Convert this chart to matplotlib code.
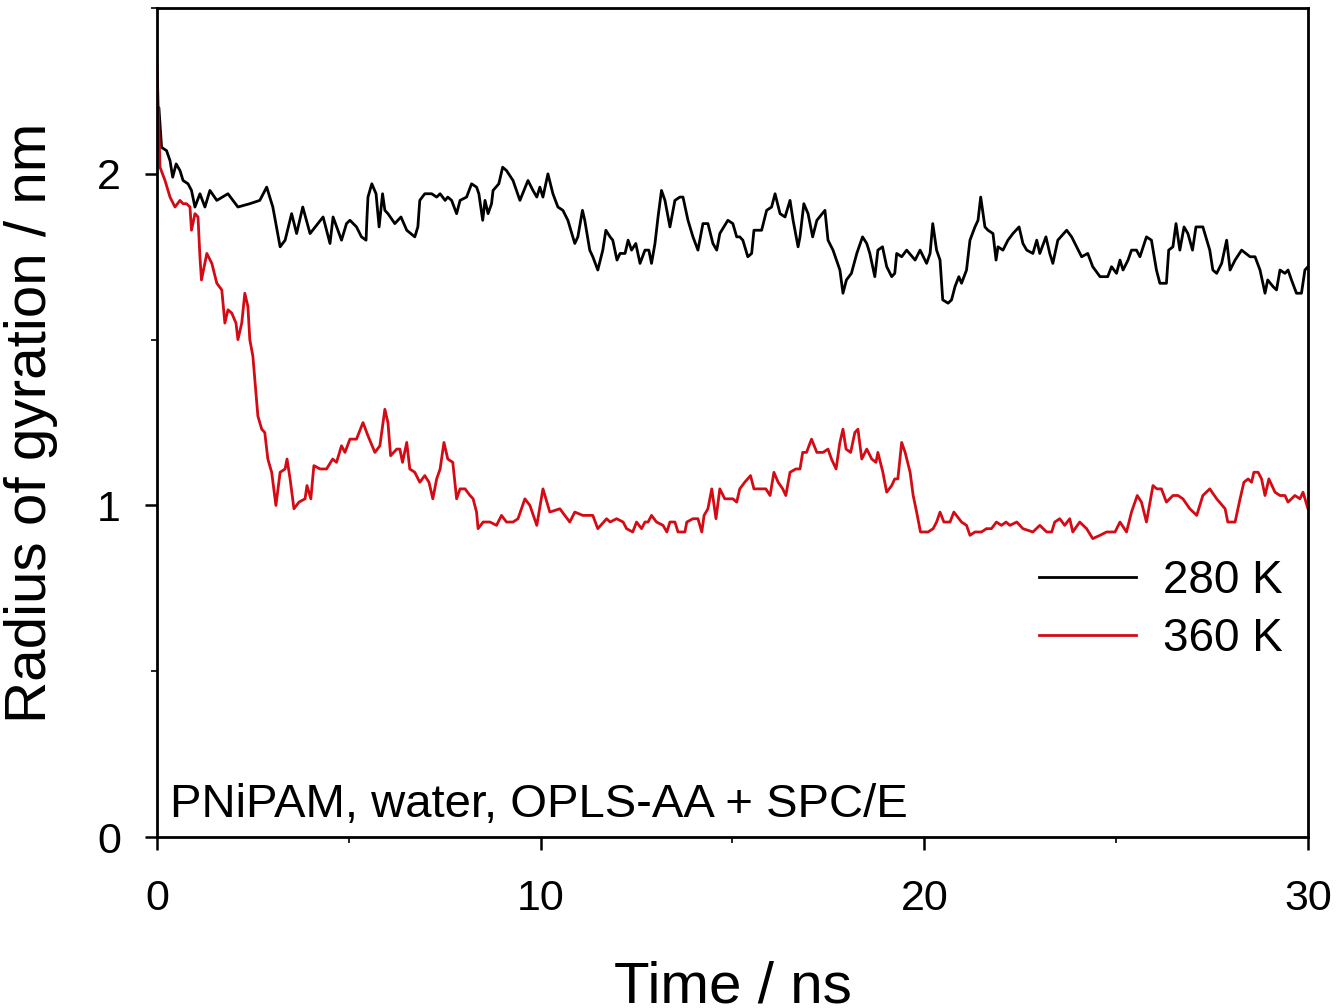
import matplotlib
matplotlib.use("Agg")
import matplotlib.pyplot as plt
from matplotlib.ticker import MultipleLocator

plt.rcParams['font.family'] = ['Liberation Sans', 'DejaVu Sans']

# radius of gyration, 280 K
t_280 = [0.00, 0.05, 0.12, 0.25, 0.34, 0.41, 0.50, 0.60, 0.68, 0.81, 0.90, 0.99, 1.12, 1.25, 1.38,
         1.56, 1.85, 2.11, 2.42, 2.68, 2.86, 3.02, 3.21, 3.34, 3.51, 3.64, 3.80, 3.99, 4.33, 4.51,
         4.59, 4.81, 4.94, 5.03, 5.20, 5.33, 5.45, 5.47, 5.50, 5.60, 5.71, 5.79, 5.88, 5.94, 6.02,
         6.20, 6.36, 6.51, 6.72, 6.80, 6.85, 6.98, 7.16, 7.29, 7.38, 7.51, 7.58, 7.68, 7.81, 7.90,
         8.07, 8.20, 8.33, 8.39, 8.49, 8.55, 8.63, 8.72, 8.76, 8.91, 9.01, 9.11, 9.28, 9.46, 9.67,
         9.80, 9.90, 9.98, 10.06, 10.19, 10.32, 10.45, 10.58, 10.71, 10.89, 10.97, 11.09, 11.15,
         11.28, 11.36, 11.49, 11.62, 11.70, 11.81, 11.88, 11.99, 12.07, 12.20, 12.28, 12.37, 12.48,
         12.59, 12.72, 12.82, 12.89, 12.98, 13.06, 13.15, 13.24, 13.37, 13.50, 13.63, 13.71, 13.84,
         13.97, 14.10, 14.23, 14.36, 14.49, 14.59, 14.67, 14.88, 15.01, 15.11, 15.19, 15.27, 15.40,
         15.50, 15.56, 15.76, 15.89, 16.02, 16.11, 16.24, 16.37, 16.50, 16.58, 16.71, 16.76, 16.86,
         16.97, 17.09, 17.20, 17.41, 17.49, 17.62, 17.80, 17.88, 17.97, 18.10, 18.24, 18.39, 18.50,
         18.58, 18.71, 18.79, 18.91, 19.02, 19.15, 19.23, 19.28, 19.41, 19.54, 19.76, 19.89, 20.06,
         20.15, 20.22, 20.32, 20.41, 20.48, 20.62, 20.71, 20.80, 20.90, 20.97, 21.10, 21.19, 21.32,
         21.40, 21.47, 21.58, 21.66, 21.79, 21.87, 21.92, 22.05, 22.18, 22.31, 22.47, 22.57, 22.67,
         22.83, 22.93, 23.01, 23.17, 23.27, 23.35, 23.48, 23.71, 23.84, 23.97, 24.10, 24.26, 24.39,
         24.58, 24.78, 24.88, 25.01, 25.10, 25.18, 25.31, 25.40, 25.53, 25.62, 25.79, 25.92, 26.05,
         26.14, 26.31, 26.37, 26.48, 26.56, 26.66, 26.77, 26.87, 26.99, 27.08, 27.26, 27.44, 27.52,
         27.62, 27.75, 27.88, 27.97, 28.10, 28.27, 28.49, 28.62, 28.75, 28.88, 28.95, 29.09, 29.18,
         29.27, 29.40, 29.48, 29.57, 29.70, 29.83, 29.92, 30.00]
rg_280 = [2.12, 2.20, 2.08, 2.07, 2.04, 1.99, 2.03, 2.01, 1.98, 1.97, 1.95, 1.90, 1.94, 1.90, 1.95,
          1.92, 1.94, 1.90, 1.91, 1.92, 1.96, 1.90, 1.78, 1.80, 1.88, 1.82, 1.90, 1.82, 1.87, 1.79,
          1.87, 1.80, 1.85, 1.86, 1.84, 1.81, 1.80, 1.86, 1.93, 1.97, 1.94, 1.84, 1.94, 1.89, 1.88,
          1.85, 1.87, 1.83, 1.81, 1.84, 1.92, 1.94, 1.94, 1.93, 1.94, 1.92, 1.93, 1.92, 1.88, 1.92,
          1.93, 1.97, 1.96, 1.94, 1.86, 1.92, 1.88, 1.91, 1.95, 1.97, 2.02, 2.01, 1.98, 1.92, 1.98,
          1.95, 1.93, 1.96, 1.93, 2.00, 1.94, 1.90, 1.89, 1.86, 1.79, 1.81, 1.89, 1.86,
          1.77, 1.75, 1.71, 1.77, 1.83, 1.81, 1.80, 1.74, 1.76, 1.76, 1.80, 1.77, 1.79,
          1.73, 1.77, 1.77, 1.73, 1.79, 1.87, 1.95, 1.92, 1.84, 1.92, 1.93, 1.93, 1.86,
          1.81, 1.77, 1.85, 1.85, 1.79, 1.77, 1.82, 1.86, 1.85, 1.81, 1.81, 1.80, 1.75,
          1.76, 1.83, 1.83, 1.89, 1.90, 1.94, 1.88, 1.87, 1.92, 1.86, 1.78, 1.81, 1.91,
          1.88, 1.81, 1.86, 1.89, 1.80, 1.77, 1.71, 1.64, 1.68, 1.70, 1.76, 1.81, 1.79,
          1.76, 1.69, 1.77, 1.78, 1.72, 1.69, 1.70, 1.76, 1.75, 1.77, 1.74, 1.77, 1.73,
          1.76, 1.85, 1.77, 1.74, 1.62, 1.61, 1.62, 1.66, 1.69, 1.67, 1.71, 1.80, 1.84,
          1.86, 1.93, 1.84, 1.83, 1.82, 1.74, 1.78, 1.77, 1.80, 1.82, 1.84, 1.79, 1.77,
          1.76, 1.80, 1.76, 1.81, 1.76, 1.73, 1.80, 1.83, 1.81, 1.78, 1.75, 1.76, 1.72,
          1.69, 1.69, 1.72, 1.70, 1.74, 1.71, 1.74, 1.77, 1.77, 1.75, 1.81, 1.80, 1.71,
          1.67, 1.67, 1.77, 1.78, 1.85, 1.77, 1.84, 1.82, 1.77, 1.84, 1.84, 1.77, 1.71,
          1.70, 1.73, 1.80, 1.71, 1.74, 1.77, 1.75, 1.75, 1.71, 1.64, 1.68, 1.66, 1.65,
          1.71, 1.70, 1.71, 1.68, 1.64, 1.64, 1.71, 1.72]

# radius of gyration, 360 K
t_360 = [0.00, 0.08, 0.21, 0.34, 0.47, 0.60, 0.68, 0.77, 0.86, 0.90, 0.99, 1.07, 1.12, 1.16, 1.30,
         1.43, 1.56, 1.69, 1.77, 1.85, 1.95, 2.06, 2.11, 2.21, 2.29, 2.37, 2.42, 2.50, 2.58, 2.63,
         2.73, 2.81, 2.89, 2.99, 3.10, 3.21, 3.34, 3.39, 3.47, 3.57, 3.70, 3.86, 3.91, 4.01, 4.09,
         4.25, 4.42, 4.58, 4.68, 4.81, 4.90, 5.03, 5.20, 5.37, 5.50, 5.68, 5.81, 5.94, 6.02, 6.09,
         6.25, 6.33, 6.40, 6.51, 6.59, 6.72, 6.85, 6.98, 7.09, 7.19, 7.29, 7.38, 7.48, 7.58, 7.71,
         7.81, 7.90, 8.03, 8.16, 8.24, 8.33, 8.37, 8.50, 8.68, 8.85, 8.98, 9.11, 9.28, 9.41, 9.59,
         9.72, 9.90, 10.06, 10.24, 10.50, 10.76, 10.89, 11.10, 11.36, 11.49, 11.72, 11.81, 11.98,
         12.15, 12.24, 12.40, 12.50, 12.63, 12.72, 12.80, 12.89, 13.02, 13.19, 13.29, 13.37, 13.50,
         13.58, 13.76, 13.81, 13.97, 14.10, 14.20, 14.26, 14.36, 14.46, 14.57, 14.67, 14.80, 15.01,
         15.11, 15.19, 15.32, 15.47, 15.56, 15.76, 15.87, 15.98, 16.08, 16.19, 16.31, 16.39, 16.50,
         16.65, 16.76, 16.83, 16.93, 17.06, 17.20, 17.36, 17.49, 17.58, 17.70, 17.80, 17.88, 17.96,
         18.08, 18.19, 18.27, 18.37, 18.50, 18.63, 18.74, 18.79, 18.92, 19.02, 19.15, 19.23, 19.31,
         19.41, 19.50, 19.63, 19.71, 19.80, 19.90, 20.10, 20.23, 20.32, 20.41, 20.51, 20.67, 20.77,
         20.97, 21.10, 21.19, 21.32, 21.49, 21.62, 21.75, 21.88, 22.01, 22.13, 22.23, 22.41, 22.57,
         22.83, 23.01, 23.19, 23.32, 23.40, 23.53, 23.66, 23.79, 23.87, 24.05, 24.23, 24.39, 24.58,
         24.75, 24.97, 25.10, 25.27, 25.40, 25.55, 25.66, 25.79, 25.96, 26.06, 26.18, 26.31, 26.48,
         26.61, 26.74, 26.92, 27.10, 27.26, 27.44, 27.62, 27.84, 27.91, 28.10, 28.23, 28.33, 28.44,
         28.53, 28.59, 28.70, 28.79, 28.88, 28.98, 29.14, 29.27, 29.40, 29.48, 29.66, 29.79, 29.87,
         30.00]
rg_360 = [2.33, 2.02, 1.98, 1.93, 1.90, 1.92, 1.91, 1.91, 1.90, 1.83, 1.88, 1.87, 1.75, 1.68, 1.76,
          1.73, 1.67, 1.65, 1.55, 1.59, 1.58, 1.55, 1.50, 1.55, 1.64, 1.60, 1.50, 1.45, 1.34, 1.27,
          1.23, 1.22, 1.14, 1.10, 1.00, 1.10, 1.11, 1.14, 1.08, 0.99, 1.01, 1.02, 1.06, 1.02, 1.12,
          1.11, 1.11, 1.14, 1.13, 1.18, 1.16, 1.20, 1.20, 1.25, 1.21, 1.16, 1.18, 1.29, 1.25, 1.15,
          1.17, 1.17, 1.13, 1.19, 1.11, 1.10, 1.07, 1.09, 1.07, 1.02, 1.08, 1.11, 1.19, 1.14, 1.13,
          1.02, 1.05, 1.05, 1.03, 1.02, 0.98, 0.93, 0.95, 0.95, 0.94, 0.97, 0.95, 0.95, 0.96, 1.02,
          1.00, 0.94, 1.05, 0.98, 0.99, 0.95, 0.98, 0.97, 0.97, 0.93, 0.96, 0.95, 0.96,
          0.95, 0.93, 0.92, 0.95, 0.93, 0.95, 0.95, 0.97, 0.95, 0.94, 0.92, 0.95, 0.95,
          0.92, 0.92, 0.95, 0.96, 0.96, 0.92, 0.97, 0.99, 1.05, 0.96, 1.05, 1.02, 1.02,
          1.01, 1.05, 1.07, 1.09, 1.05, 1.05, 1.05, 1.03, 1.10, 1.07, 1.05, 1.03, 1.10,
          1.11, 1.11, 1.16, 1.16, 1.20, 1.16, 1.16, 1.17, 1.14, 1.11, 1.19, 1.23, 1.17,
          1.16, 1.22, 1.23, 1.14, 1.17, 1.14, 1.13, 1.16, 1.10, 1.04, 1.06, 1.08, 1.08,
          1.19, 1.16, 1.10, 1.03, 0.98, 0.92, 0.92, 0.93, 0.95, 0.98, 0.95, 0.95, 0.98,
          0.95, 0.94, 0.91, 0.92, 0.92, 0.93, 0.93, 0.95, 0.94, 0.95, 0.94, 0.95, 0.93,
          0.92, 0.94, 0.92, 0.92, 0.95, 0.96, 0.94, 0.96, 0.92, 0.95, 0.93, 0.90, 0.91,
          0.92, 0.92, 0.95, 0.92, 0.98, 1.03, 1.01, 0.95, 1.06, 1.05, 1.05, 1.01, 1.03,
          1.03, 1.02, 0.99, 0.97, 1.03, 1.05, 1.02, 0.99, 0.95, 0.95, 1.02, 1.07, 1.08,
          1.07, 1.10, 1.10, 1.08, 1.03, 1.08, 1.04, 1.03, 1.03, 1.01, 1.03, 1.02, 1.04,
          0.99]

fig = plt.figure(figsize=(13.37, 10.08), dpi=100)
ax = fig.add_axes([0.1174, 0.1696, 0.8609, 0.8224])

ax.plot(t_280, rg_280, color='black', lw=2.0, label='280 K')
ax.plot(t_360, rg_360, color='#d40a14', lw=2.0, label='360 K')

ax.set_xlim(0, 30)
ax.set_ylim(0, 2.5)
ax.xaxis.set_major_locator(MultipleLocator(10))
ax.xaxis.set_minor_locator(MultipleLocator(5))
ax.yaxis.set_major_locator(MultipleLocator(1))
ax.yaxis.set_minor_locator(MultipleLocator(0.5))
ax.tick_params(which='major', direction='out', length=9, width=1.8, labelsize=31, pad=17)
ax.tick_params(axis='x', which='major', pad=21)
ax.tick_params(which='minor', direction='out', length=4, width=1.2)
for s in ax.spines.values():
    s.set_linewidth(2)

ax.set_xlabel('Time / ns', fontsize=42, labelpad=30)
ax.set_ylabel('Radius of gyration / nm', fontsize=42, labelpad=28)

ax.text(0.011, 0.012, 'PNiPAM, water, OPLS-AA + SPC/E', transform=ax.transAxes,
        fontsize=34, ha='left', va='bottom')

ax.legend(frameon=False, fontsize=33, loc='upper right', bbox_to_anchor=(1.014, 0.385),
          handlelength=2.1, handletextpad=0.6, labelspacing=0.3)

fig.savefig('out.png', dpi=100)
